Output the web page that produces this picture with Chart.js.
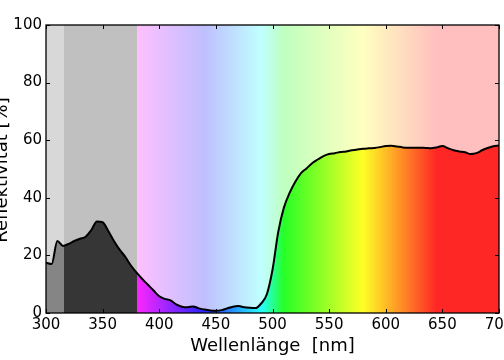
<!DOCTYPE html>
<html>
<head>
<meta charset="utf-8">
<script src="https://cdn.jsdelivr.net/npm/chart.js@4/dist/chart.umd.min.js"></script>
<style>
    html, body { margin: 0; padding: 0; background: #fff; }
    #wrap { width: 504px; height: 360px; }
</style>
</head>
<body>
<div id="wrap"><canvas id="chart"></canvas></div>
<script>
// -------------------------
// Data
// -------------------------
const wavelengths = [
    300, 305, 310, 315, 320, 325, 330, 335, 340, 345,
    350, 355, 360, 365, 370, 375, 380, 385, 390, 395,
    400, 405, 410, 415, 420, 425, 430, 435, 440, 445,
    450, 455, 460, 465, 470, 475, 480, 485, 490, 495,
    500, 505, 510, 515, 520, 525, 530, 535, 540, 545,
    550, 555, 560, 565, 570, 575, 580, 585, 590, 595,
    600, 605, 610, 615, 620, 625, 630, 635, 640, 645,
    650, 655, 660, 665, 670, 675, 680, 685, 690, 695,
    700
];
const reflectance = [
    17.5, 17.0, 25.0, 23.3, 24.0, 25.0, 25.8, 26.5, 28.8, 31.8,
    31.5, 28.5, 25.0, 22.0, 19.5, 16.5, 14.0, 11.8, 9.8, 7.8,
    5.8, 4.9, 4.4, 3.0, 2.2, 2.0, 2.3, 1.6, 1.2, 0.9,
    0.8, 1.0, 1.6, 2.2, 2.4, 2.0, 1.8, 1.7, 3.3, 6.5,
    15.0, 28.0, 36.5, 41.6, 45.5, 48.5, 50.2, 52.0, 53.3, 54.5,
    55.2, 55.5, 55.9, 56.1, 56.5, 56.8, 57.0, 57.2, 57.3, 57.6,
    58.0, 58.1, 57.8, 57.5, 57.4, 57.4, 57.4, 57.3, 57.2, 57.5,
    58.0, 57.2, 56.5, 56.1, 55.8, 55.2, 55.5, 56.5, 57.3, 57.9,
    58.2
];
const xTicks = [300, 350, 400, 450, 500, 550, 600, 650, 700];
const yTicks = [0, 20, 40, 60, 80, 100];

// UV bands: background and fill greys
const uvBands = [
    { from: 300, to: 316, bg: '#d8d8d8', fill: '#858585' },
    { from: 316, to: 380, bg: '#c0c0c0', fill: '#363636' }
];

const FONT = "'DejaVu Sans', sans-serif";

// -------------------------
// Colour helpers
// -------------------------
function spectrumRGB(nm) {
    let r = 0, g = 0, b = 0;
    if (nm < 440) { r = (440 - nm) / 60; b = 1; }
    else if (nm < 490) { g = (nm - 440) / 50; b = 1; }
    else if (nm < 510) { g = 1; b = (510 - nm) / 20; }
    else if (nm < 580) { r = (nm - 510) / 70; g = 1; }
    else if (nm < 645) { r = 1; g = (645 - nm) / 65; }
    else { r = 1; }
    return [r, g, b].map(v => Math.round(Math.min(1, Math.max(0, v)) * 255));
}

function rgba(c, a) {
    return 'rgba(' + c[0] + ',' + c[1] + ',' + c[2] + ',' + a + ')';
}

function makeGradient(chart, alpha, key) {
    const xs = chart.scales.x;
    const x0 = xs.getPixelForValue(xs.min);
    const x1 = xs.getPixelForValue(xs.max);
    const g = chart.ctx.createLinearGradient(x0, 0, x1, 0);
    const pos = nm => Math.min(1, Math.max(0, (nm - xs.min) / (xs.max - xs.min)));
    uvBands.forEach(b => {
        g.addColorStop(pos(b.from), b[key]);
        g.addColorStop(pos(b.to), b[key]);
    });
    for (let nm = 380; nm <= xs.max; nm += 5) {
        g.addColorStop(pos(nm), rgba(spectrumRGB(nm), alpha));
    }
    return g;
}

// -------------------------
// Plugins
// -------------------------
const spectrumBackground = {
    id: 'spectrumBackground',
    beforeDatasetsDraw(chart) {
        const { ctx, chartArea: a } = chart;
        ctx.save();
        ctx.fillStyle = makeGradient(chart, 0.25, 'bg');
        ctx.fillRect(a.left, a.top, a.right - a.left, a.bottom - a.top);
        ctx.restore();
    }
};

const frameAndTicks = {
    id: 'frameAndTicks',
    afterDatasetsDraw(chart) {
        const { ctx, chartArea: a, scales } = chart;
        ctx.save();
        ctx.strokeStyle = '#000';
        ctx.lineWidth = 1;
        ctx.beginPath();
        xTicks.forEach(v => {
            const px = Math.round(scales.x.getPixelForValue(v)) + 0.5;
            ctx.moveTo(px, a.bottom); ctx.lineTo(px, a.bottom - 4);
            ctx.moveTo(px, a.top); ctx.lineTo(px, a.top + 4);
        });
        yTicks.forEach(v => {
            const py = Math.round(scales.y.getPixelForValue(v)) + 0.5;
            ctx.moveTo(a.left, py); ctx.lineTo(a.left + 4, py);
            ctx.moveTo(a.right, py); ctx.lineTo(a.right - 4, py);
        });
        ctx.stroke();
        ctx.lineWidth = 1.3;
        ctx.strokeRect(a.left, a.top, a.right - a.left, a.bottom - a.top);
        ctx.restore();
    }
};

const axisTitles = {
    id: 'axisTitles',
    afterDraw(chart) {
        const { ctx, chartArea: a } = chart;
        ctx.save();
        ctx.fillStyle = '#000';
        ctx.font = '18px ' + FONT;
        ctx.textAlign = 'center';
        ctx.textBaseline = 'alphabetic';
        ctx.fillText('Wellenlänge  [nm]', (a.left + a.right) / 2, 351);
        ctx.translate(7, (a.top + a.bottom) / 2 + 1);
        ctx.rotate(-Math.PI / 2);
        ctx.fillText('Reflektivität [%]', 0, 0);
        ctx.restore();
    }
};

// -------------------------
// Chart
// -------------------------
const ctx = document.getElementById('chart').getContext('2d');

new Chart(ctx, {
    type: 'line',
    data: {
        datasets: [{
            data: wavelengths.map((w, i) => ({ x: w, y: reflectance[i] })),
            borderColor: '#000',
            borderWidth: 2,
            borderJoinStyle: 'round',
            pointRadius: 0,
            cubicInterpolationMode: 'monotone',
            fill: 'origin',
            backgroundColor: (c) => {
                const chart = c.chart;
                if (!chart.chartArea) return 'rgba(0,0,0,0)';
                return makeGradient(chart, 0.8, 'fill');
            }
        }]
    },
    options: {
        responsive: true,
        maintainAspectRatio: false,
        animation: false,
        devicePixelRatio: 1,
        layout: { padding: { top: 25, right: 5, left: 0, bottom: 0 } },
        plugins: {
            legend: { display: false },
            tooltip: { enabled: false }
        },
        scales: {
            x: {
                type: 'linear',
                min: 300,
                max: 700,
                grid: { display: false, drawTicks: false },
                border: { display: false },
                ticks: {
                    stepSize: 50,
                    autoSkip: false,
                    maxRotation: 0,
                    padding: 3,
                    color: '#000',
                    font: { family: FONT, size: 15 }
                },
                afterFit: (s) => { s.height = 47; s.paddingLeft = 0; s.paddingRight = 0; }
            },
            y: {
                min: 0,
                max: 100,
                grid: { display: false, drawTicks: false },
                border: { display: false },
                ticks: {
                    stepSize: 20,
                    padding: 4,
                    color: '#000',
                    font: { family: FONT, size: 15 }
                },
                afterFit: (s) => { s.width = 46; s.paddingTop = 0; s.paddingBottom = 0; }
            }
        }
    },
    plugins: [spectrumBackground, frameAndTicks, axisTitles]
});
</script>
</body>
</html>
